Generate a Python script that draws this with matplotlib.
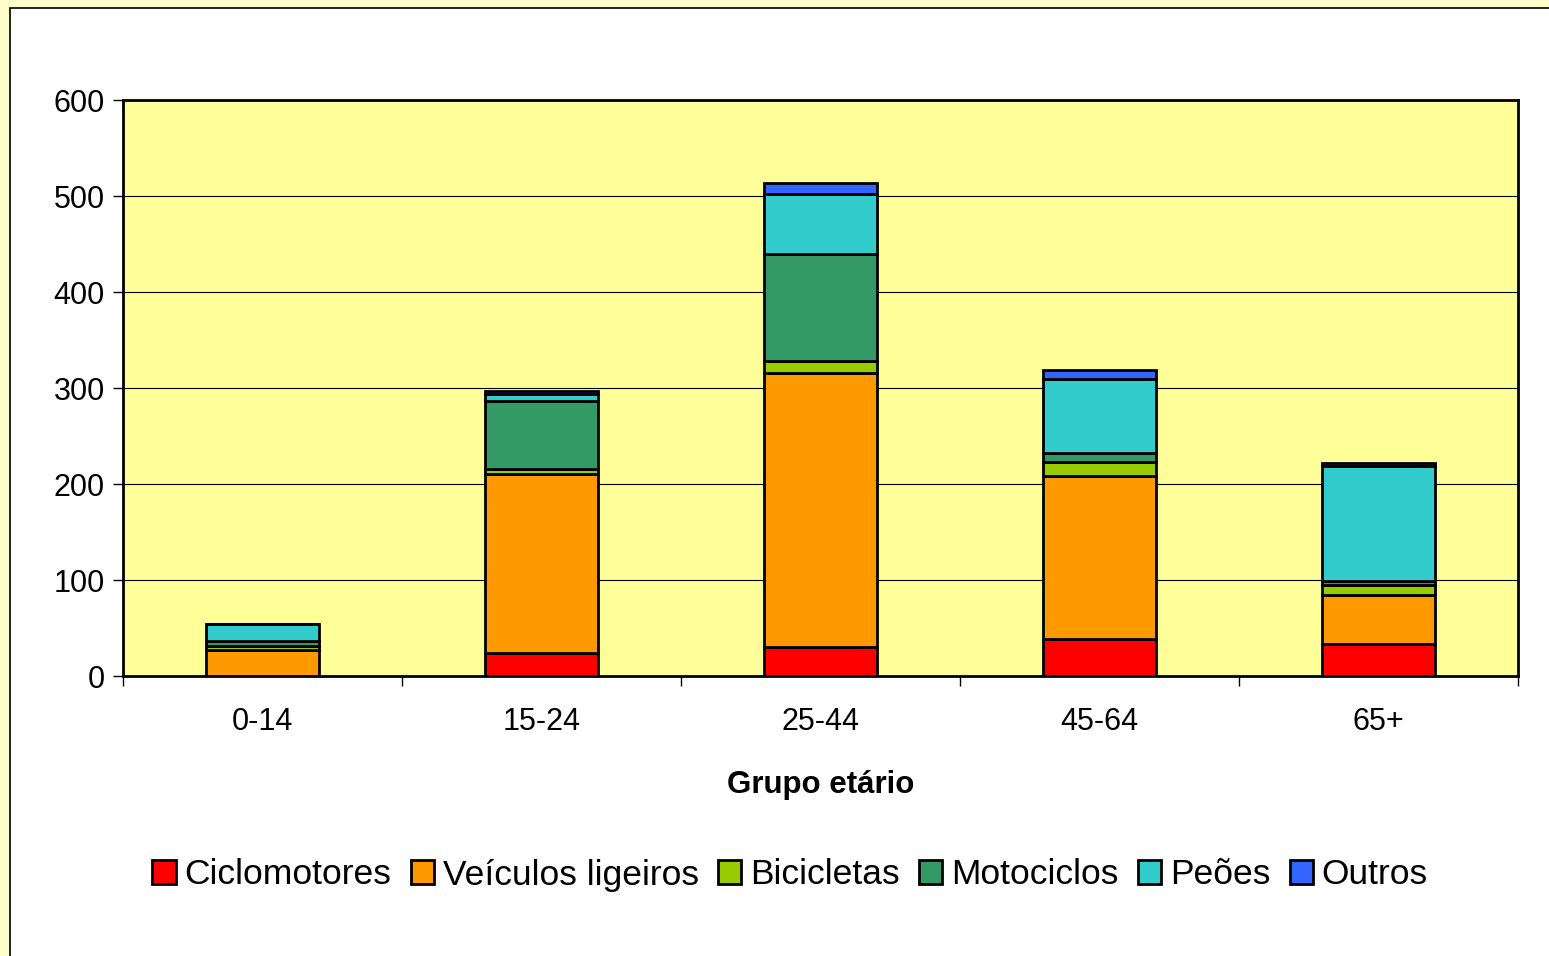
import matplotlib
matplotlib.use("Agg")
import matplotlib.pyplot as plt
from matplotlib.patches import Rectangle
import numpy as np

plt.rcParams['font.family'] = ['Liberation Sans', 'DejaVu Sans']

grupos = ["0-14", "15-24", "25-44", "45-64", "65+"]
series = ["Ciclomotores", "Veículos ligeiros", "Bicicletas", "Motociclos", "Peões", "Outros"]
ciclomotores = [0, 24, 30, 39, 33]
veiculos = [27, 186, 286, 169, 51]
bicicletas = [4, 6, 12, 15, 11]
motociclos = [5, 70, 112, 9, 4]
peoes = [18, 8, 62, 77, 120]
outros = [0, 3, 12, 10, 3]
cores = ["#FF0000", "#FF9900", "#99CC00", "#339966", "#33CCCC", "#3366FF"]

fig = plt.figure(figsize=(15.49, 9.56), dpi=100)
fig.patch.set_facecolor("#FFFFCC")
fig.patches.append(Rectangle((10 / 1549, -0.1), 1.2, 1.1 - 8 / 956, transform=fig.transFigure,
                             facecolor="white", edgecolor="black", linewidth=1.2, zorder=-1))

ax = fig.add_axes([123 / 1549, 1 - 676 / 956, 1395 / 1549, 576 / 956])
ax.set_facecolor("#FFFF99")

x = np.arange(len(grupos))
bottom = np.zeros(len(grupos))
for nome, vals, cor in zip(series, [ciclomotores, veiculos, bicicletas, motociclos, peoes, outros], cores):
    ax.bar(x, vals, width=0.405, bottom=bottom, color=cor, edgecolor="black", linewidth=2,
           label=nome, zorder=3)
    bottom += np.array(vals)

ax.set_xlim(-0.5, 4.5)
ax.set_ylim(0, 600)
ax.set_yticks(range(0, 601, 100))
ax.yaxis.grid(True, color="black", linewidth=0.8, zorder=0)
ax.tick_params(axis="y", labelsize=22, length=7, width=1, pad=6)

ax.set_xticks(x)
ax.set_xticklabels(grupos)
ax.set_xticks(np.arange(-0.5, 5, 1), minor=True)
ax.tick_params(axis="x", which="major", length=0, labelsize=22, pad=22)
ax.tick_params(axis="x", which="minor", length=7, width=1)
ax.set_xlabel("Grupo etário", fontsize=22.5, fontweight="bold", labelpad=24)

for s in ax.spines.values():
    s.set_linewidth(2)

fig.legend(loc="center", bbox_to_anchor=(790 / 1549, 1 - 875 / 956), ncol=6, frameon=False,
           fontsize=25.5, handlelength=0.65, handleheight=0.65, handletextpad=0.25,
           columnspacing=0.55)

fig.savefig("out.png", dpi=100, facecolor=fig.get_facecolor())
